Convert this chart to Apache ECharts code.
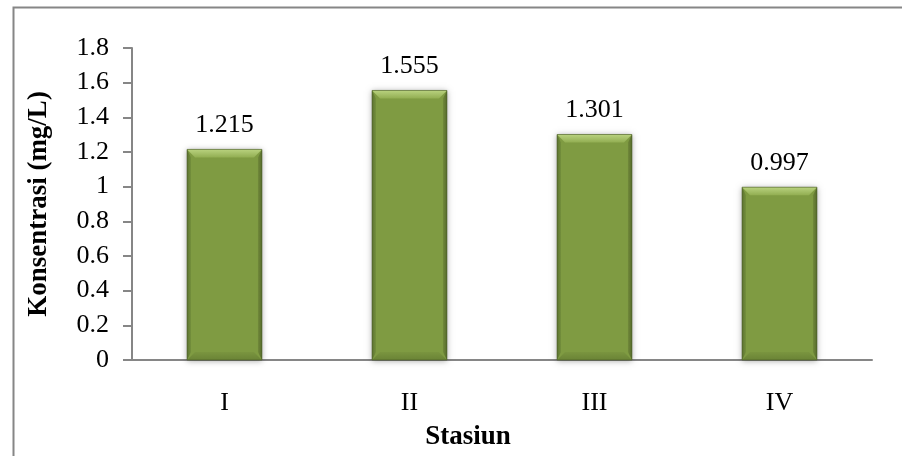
<!DOCTYPE html>
<html>
<head>
<meta charset="utf-8">
<script src="https://cdn.jsdelivr.net/npm/echarts@6/dist/echarts.min.js"></script>
<style>
  html, body { margin: 0; padding: 0; background: #ffffff; }
  #chart { width: 902px; height: 456px; }
</style>
</head>
<body>
<div id="chart"></div>
<script>
// Stations and measured concentration (mg/L)
const stations = ['I', 'II', 'III', 'IV'];
const concentration = [1.215, 1.555, 1.301, 0.997];
const yTicks = { min: 0, max: 1.8, interval: 0.2 };

const SERIF = '"Liberation Serif", "Times New Roman", serif';
const AXIS_GRAY = '#868686';

const chart = echarts.init(document.getElementById('chart'), null, { renderer: 'canvas' });

// Bevelled column drawn from the axis scales
function renderColumn(params, api) {
  const idx = api.value(0);
  const v = api.value(1);
  const top = api.coord([idx, v]);
  const base = api.coord([idx, 0]);
  const catW = api.size([1, 0])[0];
  const w = catW * 0.405;
  const x = top[0] - w / 2;
  const y = top[1];
  const h = base[1] - top[1];
  const tb = 8;   // top/bottom bevel depth
  const sb = 4;   // side bevel depth
  const lin = (x1, y1, x2, y2, stops) => new echarts.graphic.LinearGradient(x1, y1, x2, y2, stops);
  return {
    type: 'group',
    children: [
      {
        type: 'rect',
        shape: { x: x, y: y, width: w, height: h },
        style: {
          fill: '#7f9b42',
          shadowBlur: 6,
          shadowOffsetX: 0,
          shadowOffsetY: 1,
          shadowColor: 'rgba(0,0,0,0.35)'
        }
      },
      {
        type: 'polygon',
        shape: { points: [[x, y], [x + sb, y + tb], [x + sb, y + h - tb], [x, y + h]] },
        style: { fill: lin(0, 0, 1, 0, [{ offset: 0, color: '#5c7230' }, { offset: 1, color: '#74903c' }]) }
      },
      {
        type: 'polygon',
        shape: { points: [[x + w, y], [x + w - sb, y + tb], [x + w - sb, y + h - tb], [x + w, y + h]] },
        style: { fill: lin(1, 0, 0, 0, [{ offset: 0, color: '#566b2c' }, { offset: 1, color: '#71893a' }]) }
      },
      {
        type: 'polygon',
        shape: { points: [[x, y + h], [x + w, y + h], [x + w - sb - 4, y + h - tb], [x + sb + 4, y + h - tb]] },
        style: { fill: lin(0, 0, 0, 1, [{ offset: 0, color: '#7a953f' }, { offset: 1, color: '#6a8336' }]) }
      },
      {
        type: 'polygon',
        shape: { points: [[x, y], [x + w, y], [x + w - tb, y + tb], [x + tb, y + tb]] },
        style: { fill: lin(0, 0, 0, 1, [{ offset: 0, color: '#b9d27f' }, { offset: 1, color: '#92ae52' }]) }
      },
      {
        type: 'rect',
        shape: { x: x, y: y, width: w, height: h },
        style: { fill: 'none', stroke: 'rgba(70,88,34,0.55)', lineWidth: 1 }
      },
      {
        type: 'text',
        style: {
          text: v.toFixed(3),
          x: top[0],
          y: y - 11,
          align: 'center',
          verticalAlign: 'bottom',
          fill: '#000000',
          font: '26px ' + SERIF
        }
      }
    ]
  };
}

chart.setOption({
  animation: false,
  backgroundColor: '#ffffff',
  graphic: [
    {
      type: 'rect',
      left: 11, top: 5,
      shape: { width: 1000, height: 1000 },
      style: { fill: 'none', stroke: AXIS_GRAY, lineWidth: 2 },
      silent: true
    }
  ],
  grid: { left: 132, right: 30, top: 48, bottom: 93, containLabel: false },
  xAxis: {
    type: 'category',
    data: stations,
    boundaryGap: true,
    name: 'Stasiun',
    nameLocation: 'middle',
    nameGap: 64,
    nameTextStyle: {
      fontFamily: SERIF, fontSize: 27, fontWeight: 'bold', color: '#000',
      padding: [0, 68, 0, 0]
    },
    axisLine: { show: true, lineStyle: { color: AXIS_GRAY, width: 2 } },
    axisTick: { show: false },
    axisLabel: { fontFamily: SERIF, fontSize: 26, color: '#000', margin: 30 },
    splitLine: { show: false }
  },
  yAxis: {
    type: 'value',
    min: yTicks.min,
    max: yTicks.max,
    interval: yTicks.interval,
    name: 'Konsentrasi (mg/L)',
    nameLocation: 'middle',
    nameGap: 79,
    nameRotate: 90,
    nameTextStyle: { fontFamily: SERIF, fontSize: 27, fontWeight: 'bold', color: '#000' },
    axisLine: { show: true, lineStyle: { color: AXIS_GRAY, width: 2 } },
    axisTick: { show: true, inside: false, length: 9, lineStyle: { color: AXIS_GRAY, width: 2 } },
    axisLabel: {
      fontFamily: SERIF, fontSize: 26, color: '#000', margin: 23,
      formatter: (val) => String(Math.round(val * 10) / 10)
    },
    splitLine: { show: false }
  },
  series: [
    {
      type: 'custom',
      renderItem: renderColumn,
      encode: { x: 0, y: 1 },
      data: concentration.map((v, i) => [i, v]),
      clip: false
    }
  ]
});
</script>
</body>
</html>
